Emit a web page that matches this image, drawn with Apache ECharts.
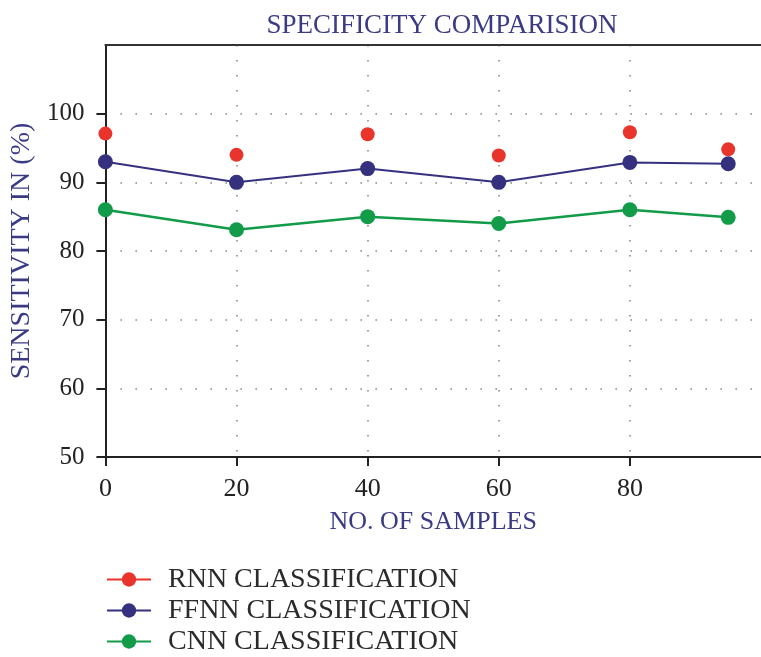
<!DOCTYPE html>
<html>
<head>
<meta charset="utf-8">
<script src="https://cdn.jsdelivr.net/npm/echarts@6/dist/echarts.min.js"></script>
<style>
  html, body { margin: 0; padding: 0; background: #ffffff; }
  #chart { width: 761px; height: 657px; }
</style>
</head>
<body>
<div id="chart"></div>
<script>
// Sample counts on the x axis
const samples = [0, 20, 40, 60, 80, 95];
// Sensitivity (%) per classifier
const rnnValues = [97.1, 94.0, 97.0, 93.9, 97.3, 94.8];
const ffnnValues = [93.0, 90.0, 92.0, 90.0, 92.9, 92.7];
const cnnValues = [86.0, 83.1, 85.0, 84.0, 86.0, 84.9];
// Tick labels
const xTicks = [0, 20, 40, 60, 80];
const yTicks = [50, 60, 70, 80, 90, 100];

const seriesNames = ['RNN CLASSIFICATION', 'FFNN CLASSIFICATION', 'CNN CLASSIFICATION'];
const colors = ['#e8342a', '#35317f', '#129b48'];

const pair = (vals) => samples.map((x, i) => [x, vals[i]]);

const serif = '"Liberation Serif", "DejaVu Serif", serif';
const navy = '#3b3a85';

const chart = echarts.init(document.getElementById('chart'), null, { renderer: 'canvas' });

const dotted = { color: '#8a8a8a', width: 1.6, type: [1.6, 13.4] };

chart.setOption({
  backgroundColor: '#ffffff',
  animation: false,
  title: {
    text: 'SPECIFICITY COMPARISION',
    left: 437, top: 7, textAlign: 'center',
    textStyle: { fontFamily: serif, fontWeight: 'normal', fontSize: 27, color: navy }
  },
  grid: { left: 105, top: 45, width: 670, bottom: 200, containLabel: false },
  legend: {
    orient: 'vertical',
    left: 106, top: 564,
    padding: 0,
    itemWidth: 44, itemHeight: 18, itemGap: 0,
    formatter: (name) => '{g|}' + name,
    textStyle: {
      fontFamily: serif, fontSize: 28, color: '#2b2b2b', lineHeight: 31,
      rich: { g: { width: 12 } }
    },
    data: seriesNames.map((n, i) => ({
      name: n,
      itemStyle: { color: colors[i] },
      lineStyle: { color: colors[i], width: 2, opacity: 1 }
    }))
  },
  xAxis: [{
    type: 'value', min: 0, max: 100, interval: 20,
    name: 'NO. OF SAMPLES', nameLocation: 'middle', nameGap: 52,
    nameTextStyle: { fontFamily: serif, fontSize: 26, color: navy },
    axisLine: { show: true, onZero: false, lineStyle: { color: '#222', width: 2 } },
    axisTick: { show: true, length: 9, customValues: xTicks, lineStyle: { color: '#222', width: 2 } },
    axisLabel: { customValues: xTicks, fontFamily: serif, fontSize: 26, color: '#222', margin: 19 },
    splitLine: { show: true, lineStyle: dotted }
  }, {
    type: 'value', position: 'top', min: 0, max: 100,
    axisLine: { show: true, lineStyle: { color: '#333', width: 2 } },
    axisTick: { show: false }, axisLabel: { show: false }, splitLine: { show: false }
  }],
  yAxis: {
    type: 'value', min: 50, max: 110, interval: 10,
    name: 'SENSITIVITY IN (%)', nameLocation: 'middle', nameGap: 69, nameRotate: 90,
    nameTextStyle: { fontFamily: serif, fontSize: 28, color: navy },
    axisLine: { show: true, lineStyle: { color: '#222', width: 2 } },
    axisTick: { show: true, length: 9, customValues: yTicks, lineStyle: { color: '#222', width: 2 } },
    axisLabel: { customValues: yTicks, fontFamily: serif, fontSize: 25, color: '#222', margin: 21 },
    splitLine: { show: true, lineStyle: dotted }
  },
  series: [
    {
      name: seriesNames[0], type: 'line', data: pair(rnnValues),
      symbol: 'circle', symbolSize: 14,
      itemStyle: { color: colors[0] },
      lineStyle: { width: 0, opacity: 0 }
    },
    {
      name: seriesNames[1], type: 'line', data: pair(ffnnValues),
      symbol: 'circle', symbolSize: 15,
      itemStyle: { color: colors[1] },
      lineStyle: { width: 2, color: colors[1] }
    },
    {
      name: seriesNames[2], type: 'line', data: pair(cnnValues),
      symbol: 'circle', symbolSize: 15,
      itemStyle: { color: colors[2] },
      lineStyle: { width: 2.5, color: colors[2] }
    }
  ]
});
</script>
</body>
</html>
